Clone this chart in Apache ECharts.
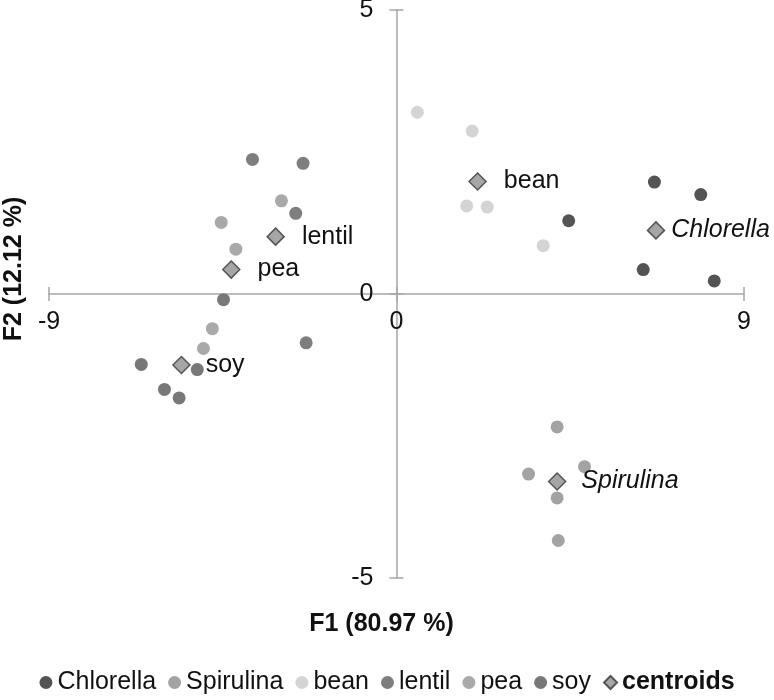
<!DOCTYPE html>
<html>
<head>
<meta charset="utf-8">
<script src="https://cdn.jsdelivr.net/npm/echarts@6/dist/echarts.min.js"></script>
<style>
  html, body { margin: 0; padding: 0; background: #fff; }
  #chart { width: 774px; height: 700px; }
</style>
</head>
<body>
<div id="chart"></div>
<script>
// ---- Data ----
const groupNames = ['Chlorella', 'Spirulina', 'bean', 'lentil', 'pea', 'soy'];
const chlorella = [[4.46, 1.29], [6.68, 1.97], [7.88, 1.75], [6.39, 0.43], [8.23, 0.23]];
const spirulina = [[4.16, -2.34], [4.87, -3.04], [3.42, -3.17], [4.16, -3.59], [4.19, -4.34]];
const bean = [[0.54, 3.20], [1.96, 2.87], [1.82, 1.55], [2.35, 1.53], [3.80, 0.85]];
const lentil = [[-3.73, 2.37], [-2.42, 2.30], [-2.61, 1.42], [-2.34, -0.86]];
const pea = [[-2.98, 1.64], [-4.54, 1.26], [-4.16, 0.79], [-4.77, -0.61], [-5.00, -0.96]];
const soy = [[-4.48, -0.10], [-6.61, -1.24], [-5.16, -1.33], [-6.01, -1.68], [-5.63, -1.83]];
const centroidNames = ['bean', 'Chlorella', 'lentil', 'pea', 'soy', 'Spirulina'];
const centroidX = [2.10, 6.72, -3.13, -4.28, -5.57, 4.16];
const centroidY = [1.98, 1.12, 1.01, 0.43, -1.25, -3.30];
const xTicks = { min: -9, max: 9, step: 9 };
const yTicks = { min: -5, max: 5, step: 5 };
const xTitle = 'F1 (80.97 %)';
const yTitle = 'F2 (12.12 %)';

// ---- Styles / layout ----
const W = 774, H = 700;
const G = { left: 49, right: 30, top: 10, bottom: 122 };
const gridW = W - G.left - G.right;
const gridH = H - G.top - G.bottom;
// distance from grid edges to the zero lines (axes cross at the origin)
const xZeroFromLeft = gridW * (0 - xTicks.min) / (xTicks.max - xTicks.min);
const yZeroFromBottom = gridH * (0 - yTicks.min) / (yTicks.max - yTicks.min);

const groupData = [chlorella, spirulina, bean, lentil, pea, soy];
const groupColors = ['#545454', '#a3a3a3', '#d4d4d4', '#7e7e7e', '#a9a9a9', '#787878'];
const italicNames = { Chlorella: true, Spirulina: true };
const labelDist = { Chlorella: 6, Spirulina: 15, bean: 17, lentil: 17, pea: 17, soy: 15 };
const axisColor = '#a6a6a6';
const font = '"Liberation Sans", Arial, sans-serif';

const series = groupNames.map((n, i) => ({
  name: n,
  type: 'scatter',
  xAxisIndex: 0, yAxisIndex: 0,
  symbol: 'circle',
  symbolSize: 13,
  itemStyle: { color: groupColors[i], opacity: 1 },
  emphasis: { disabled: true },
  data: groupData[i]
}));

series.push({
  name: 'centroids',
  type: 'scatter',
  xAxisIndex: 0, yAxisIndex: 0,
  symbol: 'diamond',
  symbolSize: [17, 17],
  z: 5,
  itemStyle: { color: '#a6a6a6', borderColor: '#555', borderWidth: 1.5, opacity: 1 },
  emphasis: { disabled: true },
  label: {
    show: true,
    position: 'right',
    fontFamily: font,
    fontSize: 25,
    color: '#111',
    formatter: p => p.name
  },
  data: centroidNames.map((n, i) => ({
    name: n,
    value: [centroidX[i], centroidY[i]],
    label: {
      distance: labelDist[n],
      fontStyle: italicNames[n] ? 'italic' : 'normal'
    }
  }))
});

const tickLine = { color: axisColor, width: 1.5 };

const option = {
  backgroundColor: '#fff',
  animation: false,
  grid: { left: G.left, right: G.right, top: G.top, bottom: G.bottom, outerBoundsMode: 'none', containLabel: false },
  legend: {
    bottom: 0,
    left: 'center',
    itemWidth: 13,
    itemHeight: 13,
    itemGap: 12,
    textStyle: { fontFamily: font, fontSize: 25, color: '#111', padding: [0, 0, 0, 0] },
    data: groupNames.map(n => ({ name: n, icon: 'circle' }))
      .concat([{ name: 'centroids', icon: 'diamond', textStyle: { fontWeight: 'bold' } }])
  },
  xAxis: [{
    type: 'value',
    min: xTicks.min, max: xTicks.max, interval: xTicks.step,
    position: 'bottom',
    offset: -yZeroFromBottom,
    axisLine: { show: true, onZero: false, lineStyle: tickLine },
    axisTick: { show: true, length: 7, lineStyle: tickLine },
    splitLine: { show: false },
    axisLabel: { fontFamily: font, fontSize: 25, color: '#111', margin: 16 },
    name: xTitle,
    nameLocation: 'middle',
    nameGap: 318,
    nameTextStyle: { fontFamily: font, fontSize: 25, fontWeight: 'bold', color: '#111', padding: [0, 0, 0, -30] }
  }, {
    type: 'value',
    min: xTicks.min, max: xTicks.max, interval: xTicks.step,
    position: 'top',
    offset: -(gridH - yZeroFromBottom),
    axisLine: { show: false, onZero: false },
    axisTick: { show: true, length: 7, lineStyle: tickLine },
    splitLine: { show: false },
    axisLabel: { show: false }
  }],
  yAxis: [{
    type: 'value',
    min: yTicks.min, max: yTicks.max, interval: yTicks.step,
    position: 'left',
    offset: -xZeroFromLeft,
    axisLine: { show: true, onZero: false, lineStyle: tickLine },
    axisTick: { show: true, length: 7, lineStyle: tickLine },
    splitLine: { show: false },
    axisLabel: { fontFamily: font, fontSize: 25, color: '#111', margin: 23 },
    name: yTitle,
    nameLocation: 'middle',
    nameGap: 370,
    nameRotate: 90,
    nameTextStyle: { fontFamily: font, fontSize: 25, fontWeight: 'bold', color: '#111', padding: [0, 0, 0, 50] }
  }, {
    type: 'value',
    min: yTicks.min, max: yTicks.max, interval: yTicks.step,
    position: 'right',
    offset: -(gridW - xZeroFromLeft),
    axisLine: { show: false, onZero: false },
    axisTick: { show: true, length: 7, lineStyle: tickLine },
    splitLine: { show: false },
    axisLabel: { show: false }
  }],
  series: series
};

const chart = echarts.init(document.getElementById('chart'), null, { renderer: 'canvas' });
chart.setOption(option);
</script>
</body>
</html>
